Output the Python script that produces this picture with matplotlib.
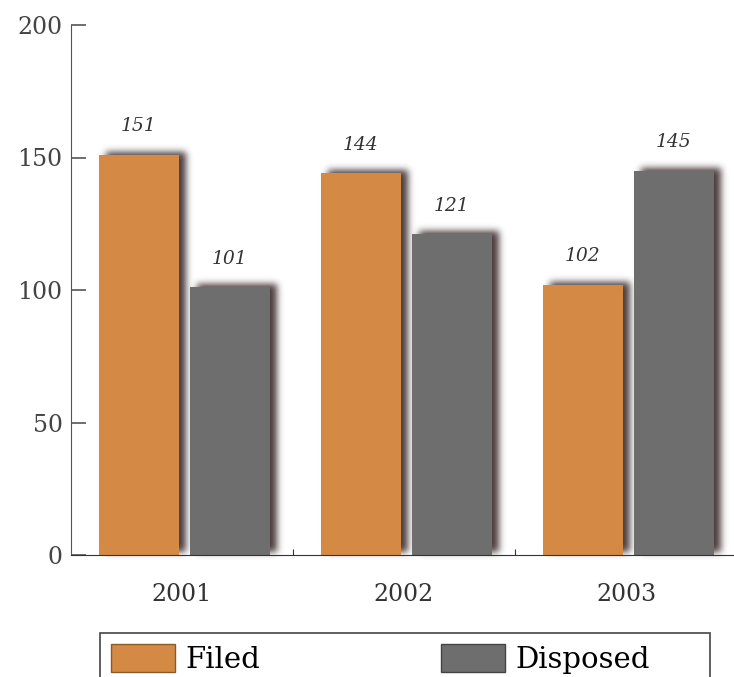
import numpy as np
import matplotlib
matplotlib.use('Agg')
import matplotlib.pyplot as plt
from matplotlib.patches import Patch, Rectangle

years = ['2001', '2002', '2003']
filed = [151, 144, 102]
disposed = [101, 121, 145]

ORANGE = '#D48A45'
GRAY = '#6E6E6E'
AXIS = '#555555'

plt.rcParams['font.family'] = ['DejaVu Serif']


def gauss_kernel(sigma):
    r = int(3 * sigma)
    t = np.arange(-r, r + 1)
    k = np.exp(-0.5 * (t / sigma) ** 2)
    return k / k.sum()


def drop_shadow(dx=7, dy=3, sigma=3.5, alpha=0.85, rgb=(0.17, 0.10, 0.10)):
    # agg filter: blurred, shifted copy of the artist's alpha channel
    k = gauss_kernel(sigma)
    pad = int(3 * sigma) + max(abs(dx), abs(dy)) + 2

    def _filter(im, dpi):
        a = np.pad(im[:, :, 3], pad)
        a = np.apply_along_axis(lambda r: np.convolve(r, k, mode='same'), 1, a)
        a = np.apply_along_axis(lambda c: np.convolve(c, k, mode='same'), 0, a)
        a = np.roll(np.roll(a, dx, axis=1), -dy, axis=0)
        out = np.zeros(a.shape + (4,), dtype=im.dtype)
        out[..., :3] = rgb
        out[..., 3] = np.clip(a * alpha, 0, 1)
        return out, -pad, -pad

    return _filter


fig = plt.figure(figsize=(7.34, 6.77), dpi=100)
ax = fig.add_axes([71 / 734, 122 / 677, 666 / 734, 530 / 677])

x = np.arange(len(years))
width = 0.36
pos_f = x + 0.305
pos_d = x + 0.715

# shadows first, then the bars on top
for pos, vals in [(pos_f, filed), (pos_d, disposed)]:
    sh = ax.bar(pos, vals, width, color='k', zorder=2)
    for b in sh:
        b.set_agg_filter(drop_shadow())
        b.set_rasterized(True)

bars_f = ax.bar(pos_f, filed, width, color=ORANGE, zorder=3)
bars_d = ax.bar(pos_d, disposed, width, color=GRAY, zorder=3)

for bars, vals in [(bars_f, filed), (bars_d, disposed)]:
    for b, v in zip(bars, vals):
        ax.annotate(f'{v}', (b.get_x() + b.get_width() / 2, v),
                    xytext=(0, 14), textcoords='offset points',
                    ha='center', va='bottom', fontsize=13.5,
                    style='italic', color='#333333')

# axes styling
ax.set_xlim(0, 3)
ax.set_ylim(0, 200)
ax.set_yticks([0, 50, 100, 150, 200])
ax.spines['top'].set_visible(False)
ax.spines['right'].set_visible(False)
ax.spines['left'].set_color(AXIS)
ax.spines['bottom'].set_color('#333333')
ax.spines['left'].set_zorder(4)
ax.spines['bottom'].set_zorder(4)
ax.tick_params(axis='y', direction='in', length=11, width=1.2, color=AXIS,
               labelsize=17, labelcolor='#444444', pad=6)

ax.set_xticks([1, 2])
ax.set_xticklabels([])
ax.tick_params(axis='x', which='major', direction='in', length=4,
               color='#333333')
ax.set_xticks(x + 0.5, minor=True)
ax.set_xticklabels(years, minor=True)
ax.tick_params(axis='x', which='minor', length=0, labelsize=17,
               labelcolor='#333333', pad=20)

# legend box runs off the bottom of the figure
handles = [Patch(facecolor=ORANGE, edgecolor='#8a5a2a', label='Filed'),
           Patch(facecolor=GRAY, edgecolor='#444444', label='Disposed')]
fig.legend(handles=handles, loc='upper left', ncol=2,
           bbox_to_anchor=(100 / 734, 44 / 677),
           frameon=False, fontsize=21,
           handlelength=2.2, handleheight=1.1, handletextpad=0.35,
           columnspacing=6.2, borderpad=0.38, borderaxespad=0)
fig.patches.append(Rectangle((100 / 734, -0.1), 610 / 734, 44 / 677 + 0.1,
                             transform=fig.transFigure, fill=False,
                             edgecolor='#444444', linewidth=1.2))

fig.savefig('out.png', dpi=100)
